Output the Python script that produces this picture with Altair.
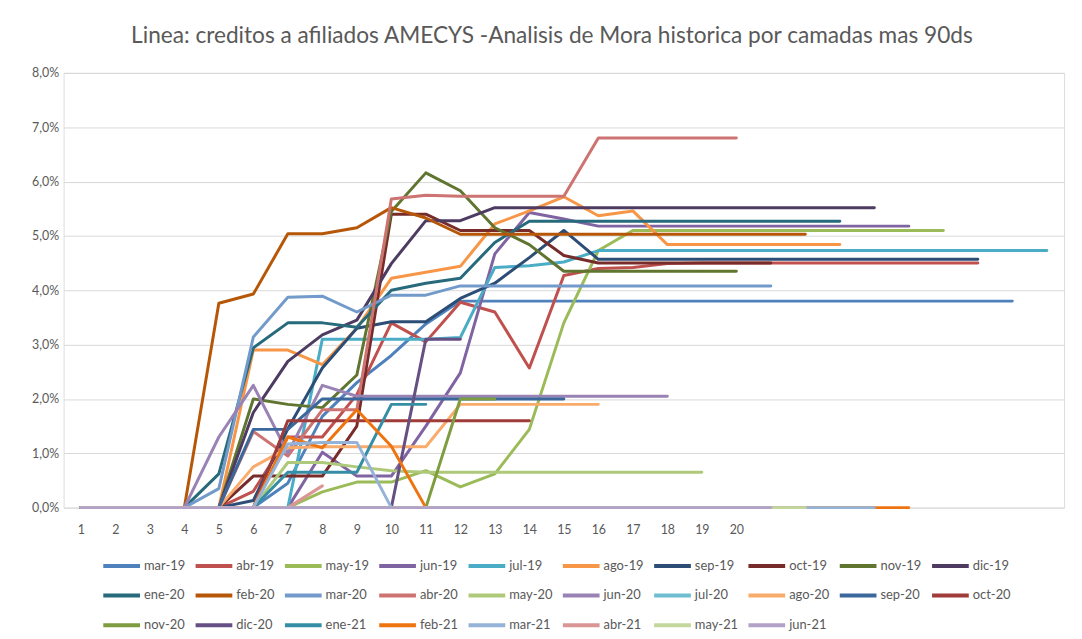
import altair as alt
import pandas as pd

title_text = "Linea: creditos a afiliados AMECYS -Analisis de Mora historica por camadas mas 90ds"

series_names = ["mar-19", "abr-19", "may-19", "jun-19", "jul-19", "ago-19", "sep-19", "oct-19", "nov-19", "dic-19",
                "ene-20", "feb-20", "mar-20", "abr-20", "may-20", "jun-20", "jul-20", "ago-20", "sep-20", "oct-20",
                "nov-20", "dic-20", "ene-21", "feb-21", "mar-21", "abr-21", "may-21", "jun-21"]

series_colors = ["#4F81BD", "#C0504D", "#9BBB59", "#8064A2", "#4BACC6", "#F79646", "#2C4D75", "#772C2A", "#5F7530", "#4D3B62",
                 "#276A7C", "#B65708", "#729ACA", "#CD7371", "#AFC97A", "#9983B5", "#6FBDD1", "#F9AB6B", "#3A679C", "#9F3B38",
                 "#7E9D40", "#664F83", "#358EA6", "#EE7411", "#95B3D7", "#D99694", "#C3D69B", "#B3A2C7"]

# Values in percent, one list per cohort (index 0 -> month 1)
mar_19 = [0, 0, 0, 0, 0, 0, 0.45, 1.68, 2.3, 2.8, 3.38, 3.8, 3.8, 3.8, 3.8, 3.8, 3.8, 3.8, 3.8, 3.8, 3.8, 3.8, 3.8, 3.8, 3.8, 3.8, 3.8, 3.8]
abr_19 = [0, 0, 0, 0, 0, 0.3, 1.3, 1.3, 2.08, 3.4, 3.05, 3.78, 3.6, 2.57, 4.27, 4.4, 4.42, 4.49, 4.5, 4.5, 4.5, 4.5, 4.5, 4.5, 4.5, 4.5, 4.5]
may_19 = [0, 0, 0, 0, 0, 0, 0, 0.29, 0.47, 0.47, 0.68, 0.38, 0.62, 1.44, 3.4, 4.73, 5.1, 5.1, 5.1, 5.1, 5.1, 5.1, 5.1, 5.1, 5.1, 5.1]
jun_19 = [0, 0, 0, 0, 0, 0, 0, 1.02, 0.58, 0.58, 1.5, 2.48, 4.67, 5.43, 5.31, 5.18, 5.18, 5.18, 5.18, 5.18, 5.18, 5.18, 5.18, 5.18, 5.18]
jul_19 = [0, 0, 0, 0, 0, 0, 0, 3.1, 3.1, 3.1, 3.1, 3.13, 4.42, 4.45, 4.52, 4.73, 4.73, 4.73, 4.73, 4.73, 4.73, 4.73, 4.73, 4.73, 4.73, 4.73, 4.73, 4.73, 4.73]
ago_19 = [0, 0, 0, 0, 0, 2.9, 2.9, 2.63, 3.3, 4.22, 4.33, 4.44, 5.22, 5.46, 5.72, 5.37, 5.46, 4.84, 4.84, 4.84, 4.84, 4.84, 4.84]
sep_19 = [0, 0, 0, 0, 0, 0.13, 1.45, 2.57, 3.3, 3.42, 3.42, 3.85, 4.13, 4.6, 5.1, 4.57, 4.57, 4.57, 4.57, 4.57, 4.57, 4.57, 4.57, 4.57, 4.57, 4.57, 4.57]
oct_19 = [0, 0, 0, 0, 0, 0.58, 0.58, 0.58, 1.5, 5.4, 5.4, 5.1, 5.1, 5.1, 4.64, 4.5, 4.5, 4.5, 4.5, 4.5, 4.5]
nov_19 = [0, 0, 0, 0, 0, 2.0, 1.9, 1.84, 2.44, 5.45, 6.16, 5.83, 5.15, 4.84, 4.35, 4.35, 4.35, 4.35, 4.35, 4.35]
dic_19 = [0, 0, 0, 0, 0, 1.75, 2.69, 3.18, 3.45, 4.49, 5.28, 5.28, 5.52, 5.52, 5.52, 5.52, 5.52, 5.52, 5.52, 5.52, 5.52, 5.52, 5.52, 5.52]
ene_20 = [0, 0, 0, 0, 0.62, 2.94, 3.4, 3.4, 3.32, 4.0, 4.13, 4.22, 4.88, 5.27, 5.27, 5.27, 5.27, 5.27, 5.27, 5.27, 5.27, 5.27, 5.27]
feb_20 = [0, 0, 0, 0, 3.76, 3.93, 5.04, 5.04, 5.15, 5.52, 5.33, 5.03, 5.03, 5.03, 5.03, 5.03, 5.03, 5.03, 5.03, 5.03, 5.03, 5.03]
mar_20 = [0, 0, 0, 0, 0.35, 3.14, 3.87, 3.89, 3.6, 3.91, 3.91, 4.08, 4.08, 4.08, 4.08, 4.08, 4.08, 4.08, 4.08, 4.08, 4.08]
abr_20 = [0, 0, 0, 0, 0, 1.4, 0.95, 1.8, 1.8, 5.68, 5.75, 5.73, 5.73, 5.73, 5.73, 6.8, 6.8, 6.8, 6.8, 6.8]
may_20 = [0, 0, 0, 0, 0, 0, 0.83, 0.83, 0.75, 0.68, 0.65, 0.65, 0.65, 0.65, 0.65, 0.65, 0.65, 0.65, 0.65]
jun_20 = [0, 0, 0, 0, 1.3, 2.25, 1.0, 2.25, 2.05, 2.05, 2.05, 2.05, 2.05, 2.05, 2.05, 2.05, 2.05, 2.05]
jul_20 = [0, 0, 0, 0, 0, 0, 0, 0, 0, 0, 0, 0, 0, 0, 0, 0, 0]
ago_20 = [0, 0, 0, 0, 0, 0.75, 1.1, 1.12, 1.12, 1.12, 1.12, 1.9, 1.9, 1.9, 1.9, 1.9]
sep_20 = [0, 0, 0, 0, 0, 1.44, 1.44, 2.0, 2.0, 2.0, 2.0, 2.0, 2.0, 2.0, 2.0]
oct_20 = [0, 0, 0, 0, 0, 0, 1.6, 1.6, 1.6, 1.6, 1.6, 1.6, 1.6, 1.6]
nov_20 = [0, 0, 0, 0, 0, 0, 0, 0, 0, 0, 0, 2.0, 2.0]
dic_20 = [0, 0, 0, 0, 0, 0, 0, 0, 0, 0, 3.1, 3.1]
ene_21 = [0, 0, 0, 0, 0, 0, 0.65, 0.65, 0.65, 1.9, 1.9]
feb_21 = [0, 0, 0, 0, 0, 0, 1.3, 1.1, 1.8, 1.13, 0, 0, 0, 0, 0, 0, 0, 0, 0, 0, 0, 0, 0, 0, 0]
mar_21 = [0, 0, 0, 0, 0, 0, 1.17, 1.2, 1.2, 0, 0, 0, 0, 0, 0, 0, 0, 0, 0, 0, 0, 0, 0, 0]
abr_21 = [0, 0, 0, 0, 0, 0, 0, 0.4]
may_21 = [0, 0, 0, 0, 0, 0, 0, 0, 0, 0, 0, 0, 0, 0, 0, 0, 0, 0, 0, 0, 0, 0]
jun_21 = [0, 0, 0, 0, 0, 0, 0, 0, 0, 0, 0, 0, 0, 0, 0, 0, 0, 0, 0, 0, 0]

series_values = [mar_19, abr_19, may_19, jun_19, jul_19, ago_19, sep_19, oct_19, nov_19, dic_19,
                 ene_20, feb_20, mar_20, abr_20, may_20, jun_20, jul_20, ago_20, sep_20, oct_20,
                 nov_20, dic_20, ene_21, feb_21, mar_21, abr_21, may_21, jun_21]

x_labels = list(range(1, 21))
y_ticks = [0, 1, 2, 3, 4, 5, 6, 7, 8]

rows = []
for name, vals in zip(series_names, series_values):
    for i, v in enumerate(vals):
        rows.append({"serie": name, "mes": i + 1, "mora": v})
df = pd.DataFrame(rows)

FONT = "Lato"
GRAY = "#595959"

color_scale = alt.Scale(domain=series_names, range=series_colors)

legend = alt.Legend(
    title=None, orient="none", legendX=38, legendY=476, columns=10,
    symbolType="stroke", symbolStrokeWidth=4, symbolSize=1369,
    labelFont=FONT, labelFontSize=13, labelColor=GRAY, labelOffset=2,
    columnPadding=2, rowPadding=1, direction="horizontal",
)

layers = []
for k, name in enumerate(series_names):
    layer = alt.Chart(df).transform_filter(
        alt.datum.serie == name
    ).mark_line(strokeWidth=3, strokeCap="round", strokeJoin="round").encode(
        x=alt.X("mes:Q", scale=alt.Scale(domain=[0.5, 29.5], nice=False, zero=False),
                axis=alt.Axis(values=x_labels, title=None, grid=False, domain=False, ticks=False,
                              labelFont=FONT, labelFontSize=12.5, labelColor=GRAY, labelPadding=16,
                              labelFlush=False)),
        y=alt.Y("mora:Q", scale=alt.Scale(domain=[0, 8], nice=False),
                axis=alt.Axis(values=y_ticks, title=None, domain=False, ticks=False,
                              gridColor="#D9D9D9", gridWidth=1,
                              labelExpr="replace(format(datum.value, '.1f'), '.', ',') + '%'",
                              labelFont=FONT, labelFontSize=12.5, labelColor=GRAY, labelPadding=5)),
        color=alt.Color("serie:N", scale=color_scale, legend=legend),
    )
    layers.append(layer)

chart = alt.layer(*layers).properties(
    width=1008,
    height=438,
    title=alt.TitleParams(title_text, font=FONT, fontSize=22.8, fontWeight="normal", color=GRAY,
                          anchor="middle", frame="group", offset=19, dx=-12),
    autosize=alt.AutoSizeParams(type="none"),
    padding={"left": 56, "top": 63, "right": 10, "bottom": 130},
).configure_view(stroke=None).configure(background="white")

chart.save("out.html", embed_options={"renderer": "svg", "actions": False})
